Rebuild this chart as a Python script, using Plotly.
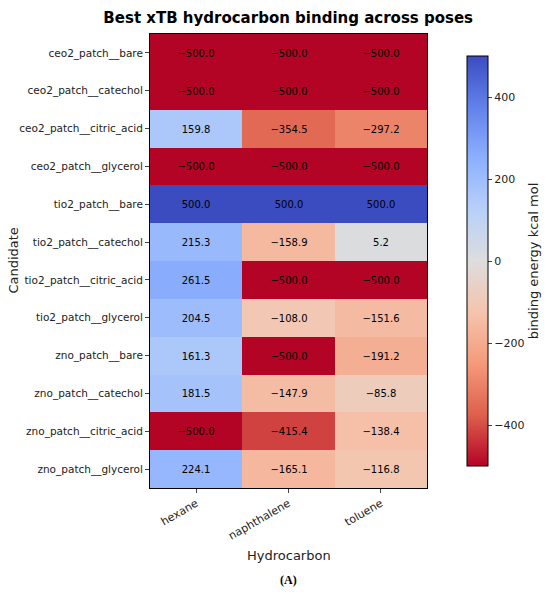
import plotly.graph_objects as go

candidates = [
    "ceo2_patch__bare", "ceo2_patch__catechol", "ceo2_patch__citric_acid",
    "ceo2_patch__glycerol", "tio2_patch__bare", "tio2_patch__catechol",
    "tio2_patch__citric_acid", "tio2_patch__glycerol", "zno_patch__bare",
    "zno_patch__catechol", "zno_patch__citric_acid", "zno_patch__glycerol",
]
hydrocarbons = ["hexane", "naphthalene", "toluene"]

hexane = [-500.0, -500.0, 159.8, -500.0, 500.0, 215.3, 261.5, 204.5, 161.3, 181.5, -500.0, 224.1]
naphthalene = [-500.0, -500.0, -354.5, -500.0, 500.0, -158.9, -500.0, -108.0, -500.0, -147.9, -415.4, -165.1]
toluene = [-500.0, -500.0, -297.2, -500.0, 500.0, 5.2, -500.0, -151.6, -191.2, -85.8, -138.4, -116.8]

z = [list(r) for r in zip(hexane, naphthalene, toluene)]
txt = [[f"{v:.1f}".replace("-", "\u2212") for v in row] for row in z]

# matplotlib coolwarm, reversed
coolwarm_r = [
    [0.0, "rgb(180,4,38)"], [0.125, "rgb(222,96,77)"], [0.25, "rgb(244,154,123)"],
    [0.375, "rgb(245,196,173)"], [0.5, "rgb(221,221,221)"], [0.625, "rgb(184,208,249)"],
    [0.75, "rgb(141,176,254)"], [0.875, "rgb(98,130,234)"], [1.0, "rgb(59,76,192)"],
]

fig = go.Figure(go.Heatmap(
    z=z, x=hydrocarbons, y=candidates, text=txt, texttemplate="%{text}",
    textfont=dict(size=10, color="black"),
    colorscale=coolwarm_r, zmin=-500, zmax=500, xgap=0, ygap=0,
    colorbar=dict(
        title=dict(text="binding energy kcal mol", side="right", font=dict(size=13)),
        tickvals=[-400, -200, 0, 200, 400],
        ticktext=["\u2212400", "\u2212200", "0", "200", "400"],
        ticks="outside", ticklen=4, tickfont=dict(size=11),
        thickness=21, len=0.903, lenmode="fraction", x=1.144, xanchor="left",
        y=0.5, yanchor="middle", xpad=0, ypad=0,
        outlinewidth=1, outlinecolor="black",
    ),
))

fig.update_layout(
    width=550, height=595,
    font=dict(family="DejaVu Sans", size=11, color="#222"),
    title=dict(text="<b>Best xTB hydrocarbon binding across poses</b>",
               x=0.524, xanchor="center", y=0.97, yanchor="middle",
               font=dict(size=15, color="black")),
    margin=dict(l=150, r=123, t=34, b=107, autoexpand=False),
    plot_bgcolor="white", paper_bgcolor="white",
    annotations=[
        dict(text="Hydrocarbon", x=0.5, y=-0.148, xref="paper", yref="paper",
             xanchor="center", yanchor="middle",
             showarrow=False, font=dict(size=13, color="#222")),
        dict(text="Candidate", x=-0.496, y=0.5, xref="paper", yref="paper", textangle=-90,
             xanchor="center", yanchor="middle",
             showarrow=False, font=dict(size=13, color="#222")),
        dict(text="<b>(A)</b>", x=0.5, y=-0.203, xref="paper", yref="paper",
             xanchor="center", yanchor="middle",
             showarrow=False, font=dict(family="Liberation Serif", size=12, color="black")),
    ],
)
fig.update_xaxes(tickangle=-30, ticks="outside", ticklen=4, automargin=False,
                 showline=True, linecolor="black", mirror=True)
fig.update_yaxes(autorange="reversed", ticks="outside", ticklen=4, automargin=False,
                 tickfont=dict(size=10.5),
                 showline=True, linecolor="black", mirror=True)

# drop the browser's default body margin so the figure sits at the page corner
fig.write_html("out.html", config={"displayModeBar": False},
               post_script="document.body.style.margin='0';")
